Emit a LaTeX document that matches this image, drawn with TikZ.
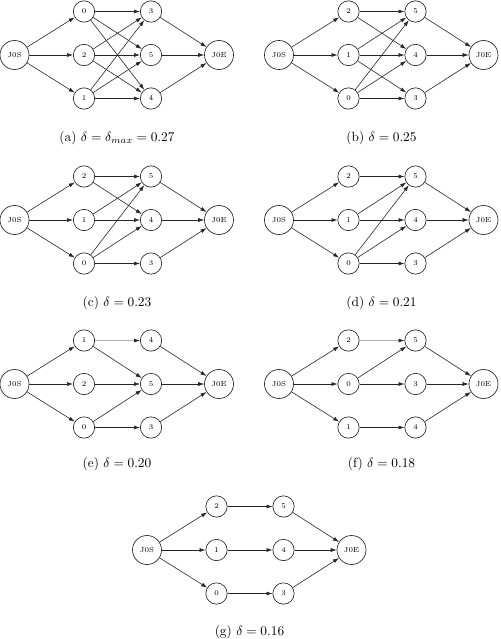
\documentclass[tikz,border=0pt]{standalone}
\usepackage{amsmath,amssymb}
\usepackage{tikz}
\usetikzlibrary{arrows.meta}

% one stage graph: J0S -> three jobs -> three jobs -> J0E
% #1..#3 first column (top to bottom), #4..#6 second column
\newcommand{\stagegraph}[6]{%
  \node[term] (s)   at (14.5,0)   {J0S};
  \node[job]  (j#1) at (84,-43.5) {#1};
  \node[job]  (j#2) at (84,0)     {#2};
  \node[job]  (j#3) at (84,43.5)  {#3};
  \node[job]  (j#4) at (151,-43.5){#4};
  \node[job]  (j#5) at (151,0)    {#5};
  \node[job]  (j#6) at (151,43.5) {#6};
  \node[term] (e)   at (219,0)    {J0E};
  \foreach \k in {#1,#2,#3} \draw[arr] (s) -- (j\k);
  \foreach \k in {#4,#5,#6} \draw[arr] (j\k) -- (e);
}

\begin{document}
\begin{tikzpicture}[
  x=0.75pt, y=-0.75pt,
  job/.style    = {circle, draw=black!85, line width=0.5pt, minimum size=16pt,
                   inner sep=0pt, font=\fontsize{5.5}{6}\selectfont},
  term/.style   = {job, minimum size=21.75pt},
  arr/.style    = {-{Latex[length=4.5pt,width=3pt]}, draw=black!85, line width=0.45pt},
  faint/.style  = {-{Latex[length=4.5pt,width=3pt,color=black!85]}, draw=black!30,
                   line width=0.45pt},
  subcap/.style = {font=\normalsize, inner sep=0pt},
]
\useasboundingbox (0,0) rectangle (500,639);

% ── (a) ─────────────────────────────────────────────
\begin{scope}[shift={(0,55)}, name prefix=a-]
  \stagegraph{0}{2}{1}{3}{5}{4}
  \foreach \u/\v in {0/3,0/5,0/4,2/3,2/5,2/4,1/3,1/5,1/4}
    \draw[arr] (j\u) -- (j\v);
  \node[subcap] (cap) at (117,83) {(a) $\delta=\delta_{max}=0.27$};
\end{scope}

% ── (b) ─────────────────────────────────────────────
\begin{scope}[shift={(264.5,55)}, name prefix=b-]
  \stagegraph{2}{1}{0}{5}{4}{3}
  \foreach \u/\v in {2/5,2/4,1/5,1/4,1/3,0/5,0/4,0/3}
    \draw[arr] (j\u) -- (j\v);
  \node[subcap] (cap) at (117,83) {(b) $\delta=0.25$};
\end{scope}

% ── (c) ─────────────────────────────────────────────
\begin{scope}[shift={(0,220)}, name prefix=c-]
  \stagegraph{2}{1}{0}{5}{4}{3}
  \foreach \u/\v in {2/5,2/4,1/5,1/4,0/5,0/4,0/3}
    \draw[arr] (j\u) -- (j\v);
  \node[subcap] (cap) at (117,83) {(c) $\delta=0.23$};
\end{scope}

% ── (d) ─────────────────────────────────────────────
\begin{scope}[shift={(264.5,220)}, name prefix=d-]
  \stagegraph{2}{1}{0}{5}{4}{3}
  \foreach \u/\v in {2/5,1/5,1/4,0/5,0/4,0/3}
    \draw[arr] (j\u) -- (j\v);
  \node[subcap] (cap) at (117,83) {(d) $\delta=0.21$};
\end{scope}

% ── (e) ─────────────────────────────────────────────
\begin{scope}[shift={(0,384)}, name prefix=e-]
  \stagegraph{1}{2}{0}{4}{5}{3}
  \draw[faint] (j1) -- (j4);
  \foreach \u/\v in {1/5,2/5,0/5,0/3}
    \draw[arr] (j\u) -- (j\v);
  \node[subcap] (cap) at (117,80) {(e) $\delta=0.20$};
\end{scope}

% ── (f) ─────────────────────────────────────────────
\begin{scope}[shift={(264.5,384)}, name prefix=f-]
  \stagegraph{2}{0}{1}{5}{3}{4}
  \draw[faint] (j2) -- (j5);
  \foreach \u/\v in {0/5,0/3,1/4}
    \draw[arr] (j\u) -- (j\v);
  \node[subcap] (cap) at (117,80) {(f) $\delta=0.18$};
\end{scope}

% ── (g) ─────────────────────────────────────────────
\begin{scope}[shift={(132.5,550)}, name prefix=g-]
  \stagegraph{2}{1}{0}{5}{4}{3}
  \foreach \u/\v in {2/5,1/4,0/3}
    \draw[arr] (j\u) -- (j\v);
  \node[subcap] (cap) at (117,82) {(g) $\delta=0.16$};
\end{scope}

\end{tikzpicture}
\end{document}
